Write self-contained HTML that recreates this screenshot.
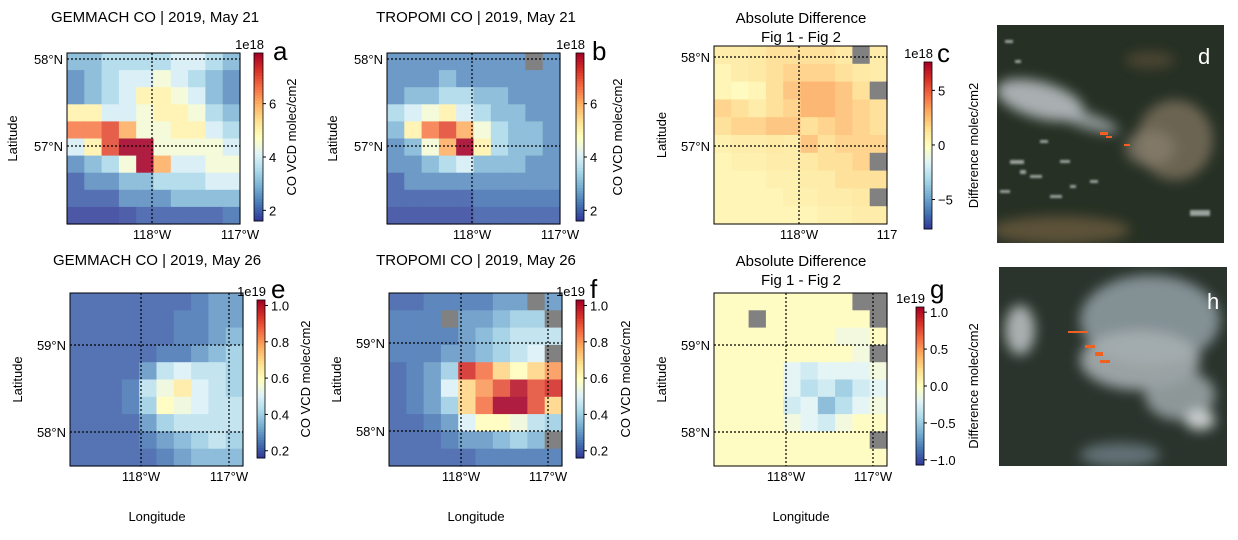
<!DOCTYPE html>
<html><head><meta charset="utf-8">
<style>
html,body{margin:0;padding:0;background:#fff;}
body{width:1238px;height:535px;overflow:hidden;font-family:"Liberation Sans","DejaVu Sans",sans-serif;}
</style></head>
<body>
<svg id="fig" width="1238" height="535" xmlns="http://www.w3.org/2000/svg" font-family="Liberation Sans, DejaVu Sans, sans-serif">
<defs>
<filter id="blur6"><feGaussianBlur stdDeviation="6"/></filter>
<filter id="blur1"><feGaussianBlur stdDeviation="1"/></filter>
<clipPath id="clipD"><rect x="997" y="25" width="227" height="218"/></clipPath>
<clipPath id="clipH"><rect x="999" y="267" width="228" height="199"/></clipPath>
</defs>
<g clip-path="url(#clipD)">
<rect x="997" y="25" width="227" height="218" fill="#263024"/>
<g filter="url(#blur6)">
<ellipse cx="1175" cy="140" rx="38" ry="40" fill="#7d725e" opacity="0.8"/>
<ellipse cx="1150" cy="148" rx="25" ry="18" fill="#8a8070" opacity="0.7"/>
<ellipse cx="1060" cy="230" rx="70" ry="14" fill="#6b5a3e" opacity="0.8"/>
<ellipse cx="1150" cy="60" rx="25" ry="8" fill="#5e5038" opacity="0.7"/>
<ellipse cx="1040" cy="100" rx="45" ry="18" fill="#b7bcc0" opacity="0.9" transform="rotate(15 1040 100)"/>
<ellipse cx="1085" cy="120" rx="35" ry="8" fill="#aab0b4" opacity="0.8" transform="rotate(18 1085 120)"/>
</g>
<g fill="#e8ecee" opacity="0.6" filter="url(#blur1)">
<rect x="1005" y="40" width="8" height="3"/><rect x="1010" y="160" width="14" height="4"/><rect x="1030" y="175" width="12" height="3"/>
<rect x="1000" y="190" width="10" height="3"/><rect x="1060" y="160" width="10" height="3"/><rect x="1050" y="195" width="12" height="3"/>
<rect x="1190" y="210" width="20" height="6"/><rect x="1090" y="180" width="8" height="3"/><rect x="1040" y="140" width="8" height="3"/>
<rect x="1020" y="170" width="6" height="4"/><rect x="1070" y="185" width="6" height="3"/><rect x="1015" y="60" width="6" height="3"/>
</g>
<g fill="#f06020"><rect x="1100" y="132" width="8" height="3"/><rect x="1106" y="136" width="6" height="2"/><rect x="1124" y="144" width="6" height="2"/></g>
<text x="1198" y="64" font-size="22" fill="#fff">d</text>
</g>
<g clip-path="url(#clipH)">
<rect x="999" y="267" width="228" height="199" fill="#2a342d"/>
<g filter="url(#blur6)">
<ellipse cx="1150" cy="320" rx="70" ry="45" fill="#8d9aa0" opacity="0.9"/>
<ellipse cx="1140" cy="360" rx="60" ry="30" fill="#a6aeb0" opacity="0.9"/>
<ellipse cx="1180" cy="395" rx="35" ry="25" fill="#98a2a4" opacity="0.9"/>
<ellipse cx="1200" cy="420" rx="15" ry="10" fill="#d8dcdc" opacity="0.9"/>
<ellipse cx="1120" cy="455" rx="40" ry="12" fill="#6f8088" opacity="0.8"/>
<ellipse cx="1020" cy="330" rx="15" ry="25" fill="#c9ced0" opacity="0.8"/>
</g>
<g fill="#f06020"><rect x="1068" y="331" width="20" height="2"/><rect x="1085" y="345" width="10" height="3"/><rect x="1095" y="352" width="8" height="4"/><rect x="1100" y="360" width="10" height="3"/></g>
<text x="1207" y="309" font-size="22" fill="#fff">h</text>
</g>
<g id="panels"></g>
</svg>
<script>
const gridA=[[3,3,3.5,3.5,3.5,3.5,4,4,3.5,3],[2.5,3,3.5,4,4,4.5,4,3.5,3,2.5],[2.5,3,3.5,4,5,5,4.5,4,3,2.5],[5,5,4,4,4.5,5,5,4.5,3.5,3],[6.5,6.5,7,6,4.5,4.5,5,5,4,3.5],[4,5,7,8,8,4.5,4.5,4.5,4.5,4],[2.5,3,3.5,4.5,8,6,4,4,4.5,4.5],[2,2.5,2.5,3,3,3.5,3.5,3.5,4,4],[2,2,2,2.5,2.5,2.5,3,3,3,3],[1.7,1.7,1.7,1.8,2,2,2,2,2,2.2]];
const gridB=[[2.5,2.5,2.5,2.5,2.5,2.5,2.5,2.5,null,2.5],[2.5,2.5,2.5,3,2.5,2.5,2.5,2.5,2.5,2.5],[2.5,3,3,3.5,3.5,3,3,2.5,2.5,2.5],[3.5,4,4.5,5,4,3.5,3,3,2.5,2.5],[3,5,6.5,7,6,4.5,3.5,3,3,2.5],[2.5,3,4.5,6,8,5,3.5,3,3,2.5],[2.5,2.5,3,3.5,4,3,3,3,2.5,2.5],[2,2.5,2.5,2.5,2.5,2.5,2.5,2.5,2.5,2.5],[2,2,2,2,2,2.2,2.2,2.2,2.2,2.2],[1.8,1.8,1.8,1.8,1.8,2,2,2,2,2]];
const gridC=[[1,1,1.2,1.5,1.5,1.5,1.5,1.2,null,1],[0.5,1,1.2,1.5,2,2,2,1.5,1.2,1],[0.5,0.2,0.5,1.5,2.5,3,3,2.5,1.5,null],[2,1.5,1,1.5,2,3,3,2.5,2,1.5],[1.5,2,2,2.5,2.5,1.5,2,2.5,2,1.5],[0.8,1,1,1.2,1,2.5,1.5,2,2,2],[0.5,0.8,0.8,1,1,1.2,1.5,1.5,2,null],[0.5,0.5,0.5,0.8,0.8,1,1,1.5,1.5,1.5],[0.5,0.5,0.5,0.5,0.8,0.8,1,1,1.2,null],[0.5,0.5,0.5,0.5,0.5,0.5,0.8,0.8,1,1]];
const gridE=[[0.22,0.22,0.22,0.22,0.22,0.22,0.22,0.25,0.3,0.3],[0.22,0.22,0.22,0.22,0.22,0.22,0.25,0.25,0.3,0.3],[0.22,0.22,0.22,0.22,0.22,0.22,0.25,0.25,0.3,0.35],[0.22,0.22,0.22,0.22,0.22,0.25,0.25,0.3,0.35,0.4],[0.22,0.22,0.22,0.22,0.3,0.45,0.5,0.45,0.45,0.4],[0.22,0.22,0.22,0.25,0.45,0.55,0.65,0.5,0.45,0.4],[0.22,0.22,0.22,0.25,0.4,0.6,0.55,0.5,0.45,0.45],[0.22,0.22,0.22,0.22,0.3,0.4,0.45,0.45,0.45,0.45],[0.22,0.22,0.22,0.22,0.25,0.3,0.35,0.4,0.45,0.4],[0.22,0.22,0.22,0.22,0.22,0.25,0.3,0.35,0.35,0.35]];
const gridF=[[0.22,0.22,0.25,0.25,0.25,0.25,0.3,0.3,null,0.3],[0.25,0.25,0.25,null,0.3,0.3,0.35,0.4,0.4,null],[0.25,0.25,0.25,0.25,0.3,0.35,0.4,0.45,0.45,0.45],[0.25,0.25,0.25,0.3,0.3,0.35,0.4,0.45,0.5,null],[0.22,0.25,0.3,0.4,0.95,0.85,0.7,0.6,0.7,0.8],[0.22,0.25,0.3,0.5,0.7,0.8,0.9,1.0,0.9,0.95],[0.22,0.25,0.3,0.4,0.7,0.85,1.05,1.05,0.9,0.7],[0.22,0.22,0.25,0.3,0.5,0.6,0.6,0.55,0.45,0.4],[0.22,0.22,0.22,0.25,0.3,0.3,0.35,0.4,0.35,null],[0.22,0.22,0.22,0.22,0.22,0.25,0.25,0.25,0.25,0.25]];
const gridG=[[0.02,0.02,0.02,0.02,0.02,0.02,0.02,0.02,null,null],[0.02,0.02,null,0.02,0.02,0.02,0.02,0.02,0.02,null],[0.02,0.02,0.02,0.02,0.02,0.02,0.02,-0.1,-0.1,0.02],[0.02,0.02,0.02,0.02,0.02,0.02,0.02,0.02,-0.1,null],[0.02,0.02,0.02,0.02,-0.2,-0.3,-0.2,-0.2,-0.2,-0.1],[0.02,0.02,0.02,0.02,-0.2,-0.4,-0.3,-0.5,-0.3,-0.2],[0.02,0.02,0.02,0.02,-0.3,-0.2,-0.6,-0.4,-0.2,-0.1],[0.02,0.02,0.02,0.02,-0.1,-0.2,-0.3,-0.1,0.02,0.02],[0.02,0.02,0.02,0.02,0.02,0.02,0.02,0.02,0.02,null],[0.02,0.02,0.02,0.02,0.02,0.02,0.02,0.02,0.02,0.02]];
const ticksA=[2,4,6], ticksC=[-5,0,5], ticksE=[0.2,0.4,0.6,0.8,1.0], ticksG=[-1.0,-0.5,0.0,0.5,1.0];
const labelsE=["0.2","0.4","0.6","0.8","1.0"], labelsG=["−1.0","−0.5","0.0","0.5","1.0"], labelsC=["−5","0","5"], labelsA=["2","4","6"];

const stops=["#313695","#4575b4","#74add1","#abd9e9","#e0f3f8","#ffffbf","#fee090","#fdae61","#f46d43","#d73027","#a50026"];
function hex(h){return [1,3,5].map(i=>parseInt(h.substr(i,2),16));}
function cmap(t){t=Math.max(0,Math.min(1,t));const p=t*10,i=Math.min(9,Math.floor(p)),f=p-i;const a=hex(stops[i]),b=hex(stops[i+1]);return `rgb(${a.map((v,k)=>Math.round(v+(b[k]-v)*f)).join(',')})`;}
const NS="http://www.w3.org/2000/svg";
const root=document.getElementById('panels');
function el(tag,attrs,parent){const e=document.createElementNS(NS,tag);for(const k in attrs)e.setAttribute(k,attrs[k]);(parent||root).appendChild(e);return e;}
function txt(s,attrs,parent){const e=el('text',attrs,parent);e.textContent=s;return e;}

const panels=[
 {id:'a',grid:gridA,x:67,y:53,w:173,h:171,vmin:1.6,vmax:7.9,cb:[254,53,9,168],ticks:ticksA,tl:labelsA,exp:'1e18',lat:[[59,'58°N'],[146,'57°N']],lon:[[152,'118°W'],[240,'117°W']],lonY:234,letter:[273,60],cblab:'CO VCD  molec/cm2',cblx:296,title:['GEMMACH   CO | 2019, May 21'],tx:155,ty:22,latlab:17},
 {id:'b',grid:gridB,x:387,y:53,w:173,h:171,vmin:1.6,vmax:7.9,cb:[576,53,8,168],ticks:ticksA,tl:labelsA,exp:'1e18',lat:[[59,'58°N'],[146,'57°N']],lon:[[472,'118°W'],[560,'117°W']],lonY:234,letter:[592,60],cblab:'CO VCD  molec/cm2',cblx:622,title:['TROPOMI CO | 2019, May 21'],tx:476,ty:22,latlab:337},
 {id:'c',grid:gridC,x:714,y:46,w:173,h:178,vmin:-7.7,vmax:7.6,cb:[924,62,8,167],ticks:ticksC,tl:labelsC,exp:'1e18',lat:[[57,'58°N'],[146,'57°N']],lon:[[799,'118°W'],[887,'117']],lonY:234,letter:[937,62],cblab:'Difference molec/cm2',cblx:978,title:['Absolute Difference','Fig 1 - Fig 2'],tx:801,ty:23,latlab:666},
 {id:'e',grid:gridE,x:70,y:293,w:173,h:173,vmin:0.16,vmax:1.03,cb:[257,300,8,158],ticks:ticksE,tl:labelsE,exp:'1e19',lat:[[345,'59°N'],[432,'58°N']],lon:[[141,'118°W'],[229,'117°W']],lonY:476,letter:[271,298],cblab:'CO VCD  molec/cm2',cblx:310,title:['GEMMACH   CO | 2019, May 26'],tx:157,ty:265,latlab:22,lonlab:157},
 {id:'f',grid:gridF,x:389,y:293,w:173,h:173,vmin:0.16,vmax:1.03,cb:[576,300,8,158],ticks:ticksE,tl:labelsE,exp:'1e19',lat:[[343,'59°N'],[431,'58°N']],lon:[[461,'118°W'],[548,'117°W']],lonY:476,letter:[590,298],cblab:'CO VCD  molec/cm2',cblx:630,title:['TROPOMI CO | 2019, May 26'],tx:476,ty:265,latlab:341,lonlab:476},
 {id:'g',grid:gridG,x:714,y:293,w:173,h:173,vmin:-1.07,vmax:1.07,cb:[916,307,8,158],ticks:ticksG,tl:labelsG,exp:'1e19',lat:[[345,'59°N'],[432,'58°N']],lon:[[786,'118°W'],[873,'117°W']],lonY:476,letter:[930,298],cblab:'Difference molec/cm2',cblx:978,title:['Absolute Difference','Fig 1 - Fig 2'],tx:801,ty:266,latlab:666,lonlab:801}
];

panels.forEach(p=>{
 const g=el('g',{});
 
 
 const rows=p.grid.length, cols=p.grid[0].length, cw=p.w/cols, ch=p.h/rows;
 const norm=v=>(v-p.vmin)/(p.vmax-p.vmin);
 const cells=el('g',{opacity:0.88},g);
 p.grid.forEach((row,r)=>row.forEach((v,c)=>{
  const rc=el('rect',{x:(p.x+c*cw).toFixed(2),y:(p.y+r*ch).toFixed(2),width:(cw+0.6).toFixed(2),height:(ch+0.6).toFixed(2),fill:v===null?'#707070':cmap(norm(v))},cells);
  
  
 }));
 p.lat.forEach(([y])=>el('line',{x1:p.x,x2:p.x+p.w,y1:y,y2:y,stroke:'#000','stroke-width':1.2,'stroke-dasharray':'2,2'},g));
 p.lon.forEach(([x])=>{ if(x<p.x+p.w-1) el('line',{x1:x,x2:x,y1:p.y,y2:p.y+p.h,stroke:'#000','stroke-width':1.2,'stroke-dasharray':'2,2'},g);});
 el('rect',{x:p.x,y:p.y,width:p.w,height:p.h,fill:'none',stroke:'#000','stroke-width':1},g);
 p.lat.forEach(([y,l])=>{const t=txt(l,{x:p.x-4,y:y+5,'font-size':13,'text-anchor':'end'},g);});
 p.lon.forEach(([x,l])=>{const t=txt(l,{x:x,y:p.lonY+5,'font-size':13,'text-anchor':'middle'},g);});
 const la=txt('Latitude',{x:p.latlab,y:(p.y+p.h/2),'font-size':13,'text-anchor':'middle',transform:`rotate(-90 ${p.latlab} ${p.y+p.h/2})`},g);
 
 if(p.lonlab){const lo=txt('Longitude',{x:p.lonlab,y:521,'font-size':13,'text-anchor':'middle'},g);}
 p.title.forEach((s,i)=>{const t=txt(s,{x:p.tx,y:p.ty+i*19,'font-size':15,'text-anchor':'middle'},g);});
 const [cx,cy,cwid,chgt]=p.cb, N=60;
 const cbg=el('g',{},g);
 
 
 for(let i=0;i<N;i++){el('rect',{x:cx,y:(cy+chgt-(i+1)*chgt/N).toFixed(2),width:cwid,height:(chgt/N+0.5).toFixed(2),fill:cmap((i+0.5)/N)},cbg);}
 el('rect',{x:cx,y:cy,width:cwid,height:chgt,fill:'none',stroke:'#000','stroke-width':0.8},cbg);
 p.ticks.forEach((v,i)=>{const y=cy+chgt-norm(v)*chgt;el('line',{x1:cx+cwid,x2:cx+cwid+3,y1:y,y2:y,stroke:'#000'},cbg);const t=txt(p.tl[i],{x:cx+cwid+6,y:y+5,'font-size':13},cbg);});
 const ex=txt(p.exp,{x:cx+cwid+1,y:cy-4,'font-size':13,'text-anchor':'end'},g);
 
 const cl=txt(p.cblab,{x:p.cblx,y:cy+chgt/2,'font-size':13,'text-anchor':'middle',transform:`rotate(-90 ${p.cblx} ${cy+chgt/2})`},g);
 
 const lt=txt(p.id,{x:p.letter[0],y:p.letter[1],'font-size':26},g);
 
});
</script>
</body></html>
